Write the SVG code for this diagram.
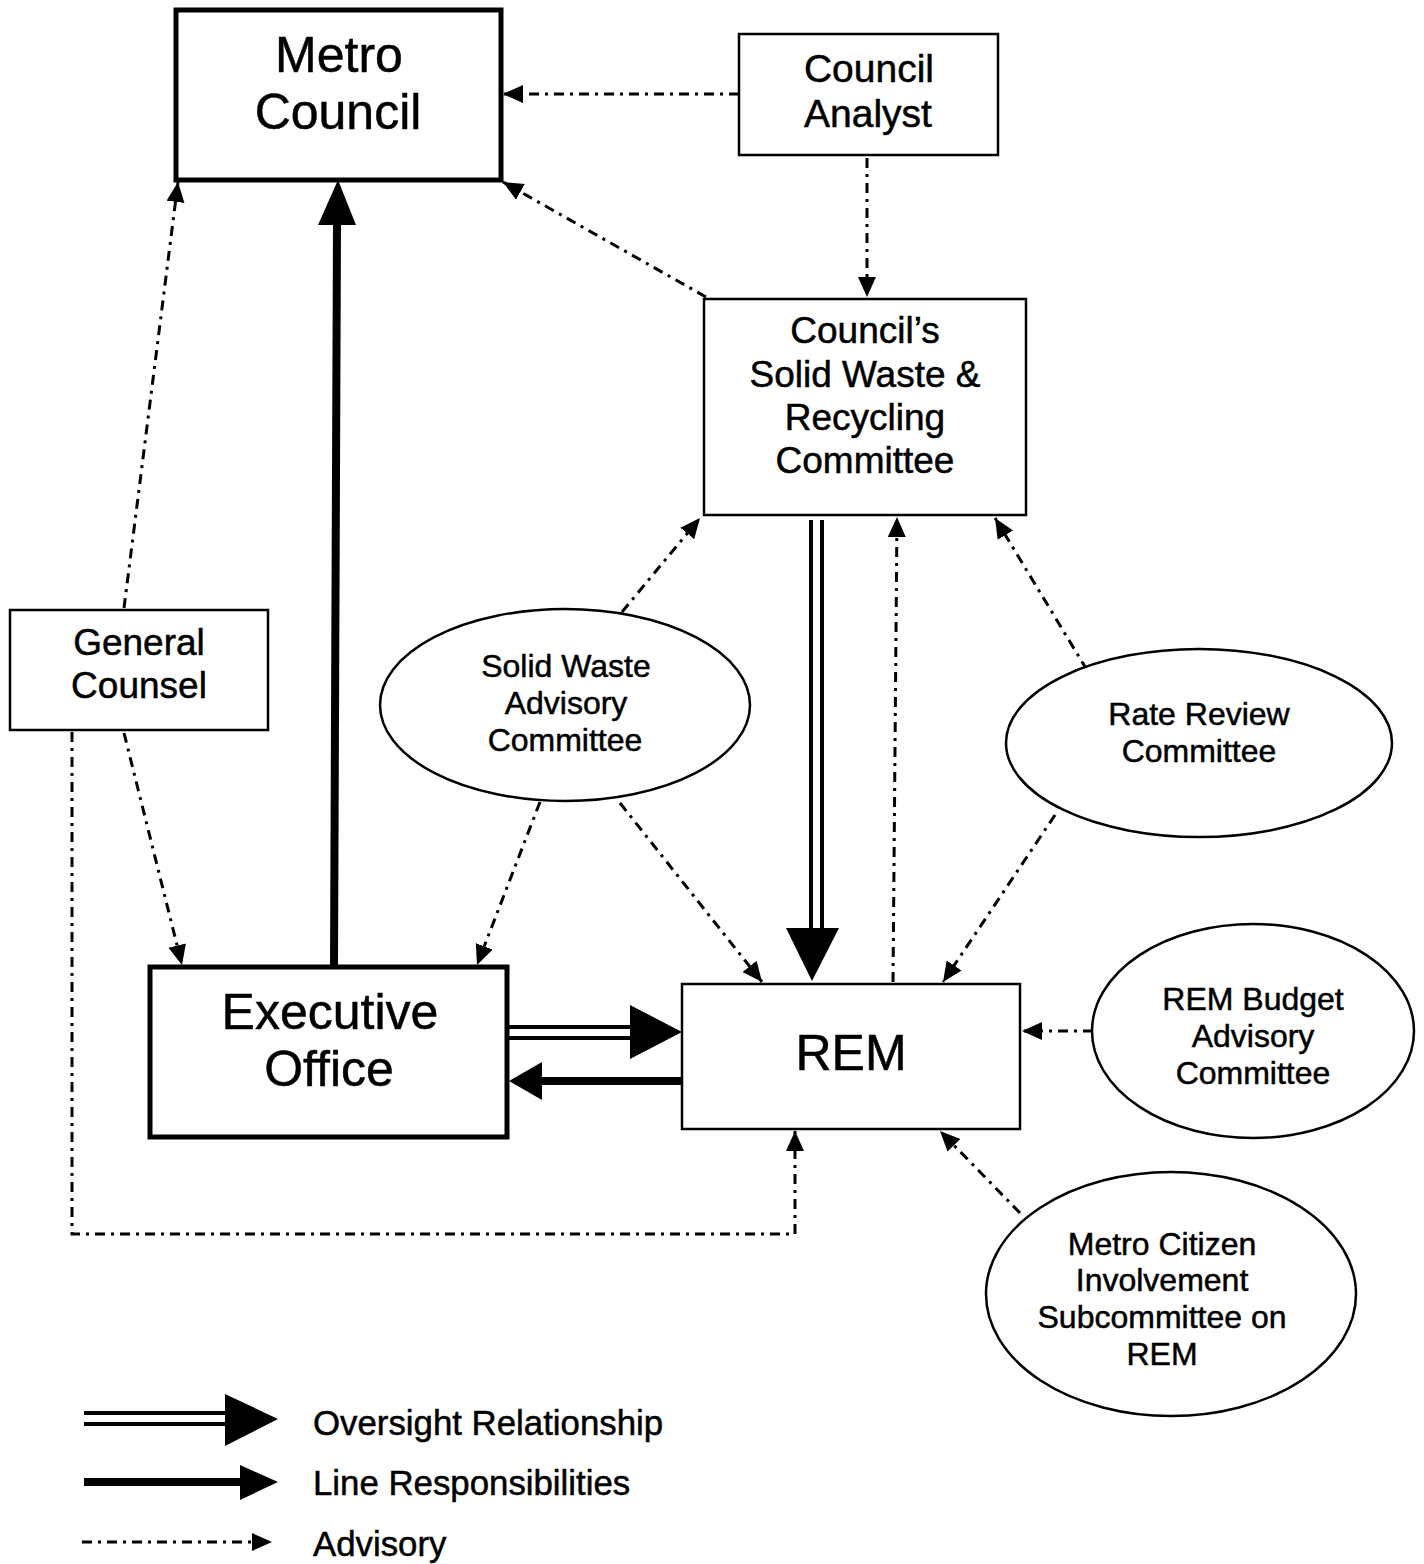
<svg xmlns="http://www.w3.org/2000/svg" width="1424" height="1564" viewBox="0 0 1424 1564">
<style>
text{font-family:"Liberation Sans",Arial,sans-serif;fill:#000;stroke:#000;stroke-width:0.5;text-anchor:middle}
.box{fill:#fff;stroke:#000;stroke-width:2.5}
.bold{fill:#fff;stroke:#000;stroke-width:5}
.ell{fill:#fff;stroke:#000;stroke-width:2.5}
.adv{fill:none;stroke:#000;stroke-width:3;stroke-dasharray:10 6 3 6;marker-end:url(#ah)}
.line{fill:none;stroke:#000;stroke-width:8}
.ov{fill:none;stroke:#000;stroke-width:4}
.head{fill:#000;stroke:none}
</style>
<defs>
<marker id="ah" markerUnits="userSpaceOnUse" markerWidth="24" markerHeight="20" refX="20" refY="9" orient="auto">
<path d="M0,0 L20,9 L0,18 Z" fill="#000"/>
</marker>
</defs>
<rect width="1424" height="1564" fill="#fff"/>

<g id="connectors">
<!-- advisory -->
<path class="adv" d="M739,94 L503,94"/>
<path class="adv" d="M867,158 L867,297"/>
<path class="adv" d="M706,297 L503,182"/>
<path class="adv" d="M124,608 L178,182"/>
<path class="adv" d="M124,733 L182,965"/>
<path class="adv" d="M72,732 L72,1234 L795,1234 L795,1131"/>
<path class="adv" d="M622,612 L700,518"/>
<path class="adv" d="M540,802 L477,965"/>
<path class="adv" d="M620,803 L762,982"/>
<path class="adv" d="M893,982 L897,517"/>
<path class="adv" d="M1087,670 L995,518"/>
<path class="adv" d="M1055,815 L943,982"/>
<path class="adv" d="M1093,1031 L1022,1031"/>
<path class="adv" d="M1020,1213 L940,1131"/>
<!-- line responsibilities -->
<path class="line" d="M334,967 L337,225"/>
<path class="head" d="M318,225 L338,180 L356,225 Z"/>
<path class="line" d="M682,1081 L540,1081"/>
<path class="head" d="M542,1062 L509,1081 L542,1100 Z"/>
<!-- oversight -->
<path class="ov" d="M811,520 L811,930 M822,520 L822,930"/>
<path class="head" d="M786,928 L839,928 L812,981 Z"/>
<path class="ov" d="M509,1027 L632,1027 M509,1038 L632,1038"/>
<path class="head" d="M630,1005 L682,1032 L630,1059 Z"/>
</g>

<g id="metro-council">
<rect class="bold" x="176" y="10" width="325" height="170"/>
<text x="339" y="72" font-size="50">Metro</text>
<text x="338" y="129" font-size="50">Council</text>
</g>

<g id="council-analyst">
<rect class="box" x="739" y="34" width="259" height="121"/>
<text x="869" y="82" font-size="39">Council</text>
<text x="868" y="127" font-size="39">Analyst</text>
</g>

<g id="council-sw-committee">
<rect class="box" x="704" y="299" width="322" height="216"/>
<text x="865" y="343" font-size="37">Council’s</text>
<text x="865" y="387" font-size="37">Solid Waste &amp;</text>
<text x="865" y="430" font-size="37">Recycling</text>
<text x="865" y="473" font-size="37">Committee</text>
</g>

<g id="general-counsel">
<rect class="box" x="10" y="610" width="258" height="120"/>
<text x="139" y="655" font-size="37">General</text>
<text x="139" y="698" font-size="37">Counsel</text>
</g>

<g id="swac">
<ellipse class="ell" cx="565" cy="705" rx="185" ry="96"/>
<text x="566" y="677" font-size="32">Solid Waste</text>
<text x="566" y="714" font-size="32">Advisory</text>
<text x="565" y="751" font-size="32">Committee</text>
</g>

<g id="rate-review">
<ellipse class="ell" cx="1199" cy="743" rx="193" ry="94"/>
<text x="1199" y="725" font-size="32">Rate Review</text>
<text x="1199" y="762" font-size="32">Committee</text>
</g>

<g id="executive-office">
<rect class="bold" x="150" y="967" width="357" height="170"/>
<text x="330" y="1029" font-size="50">Executive</text>
<text x="329" y="1086" font-size="50">Office</text>
</g>

<g id="rem">
<rect class="box" x="682" y="984" width="338" height="145"/>
<text x="851" y="1070" font-size="50">REM</text>
</g>

<g id="rem-budget">
<ellipse class="ell" cx="1253" cy="1031" rx="161" ry="107"/>
<text x="1253" y="1010" font-size="32">REM Budget</text>
<text x="1253" y="1047" font-size="32">Advisory</text>
<text x="1253" y="1084" font-size="32">Committee</text>
</g>

<g id="metro-citizen">
<ellipse class="ell" cx="1171" cy="1294" rx="185" ry="122"/>
<text x="1162" y="1255" font-size="32">Metro Citizen</text>
<text x="1162" y="1291" font-size="32">Involvement</text>
<text x="1162" y="1328" font-size="32">Subcommittee on</text>
<text x="1162" y="1365" font-size="32">REM</text>
</g>

<g id="legend">
<path class="ov" d="M84,1413 L228,1413 M84,1424 L228,1424"/>
<path class="head" d="M225,1394 L278,1419 L225,1446 Z"/>
<path class="line" d="M84,1482 L242,1482"/>
<path class="head" d="M240,1465 L278,1482 L240,1500 Z"/>
<path class="adv" d="M82,1542 L272,1542"/>
<text x="313" y="1435" font-size="34.8" style="text-anchor:start">Oversight Relationship</text>
<text x="313" y="1495" font-size="34.8" style="text-anchor:start">Line Responsibilities</text>
<text x="313" y="1556" font-size="34.8" style="text-anchor:start">Advisory</text>
</g>
</svg>
